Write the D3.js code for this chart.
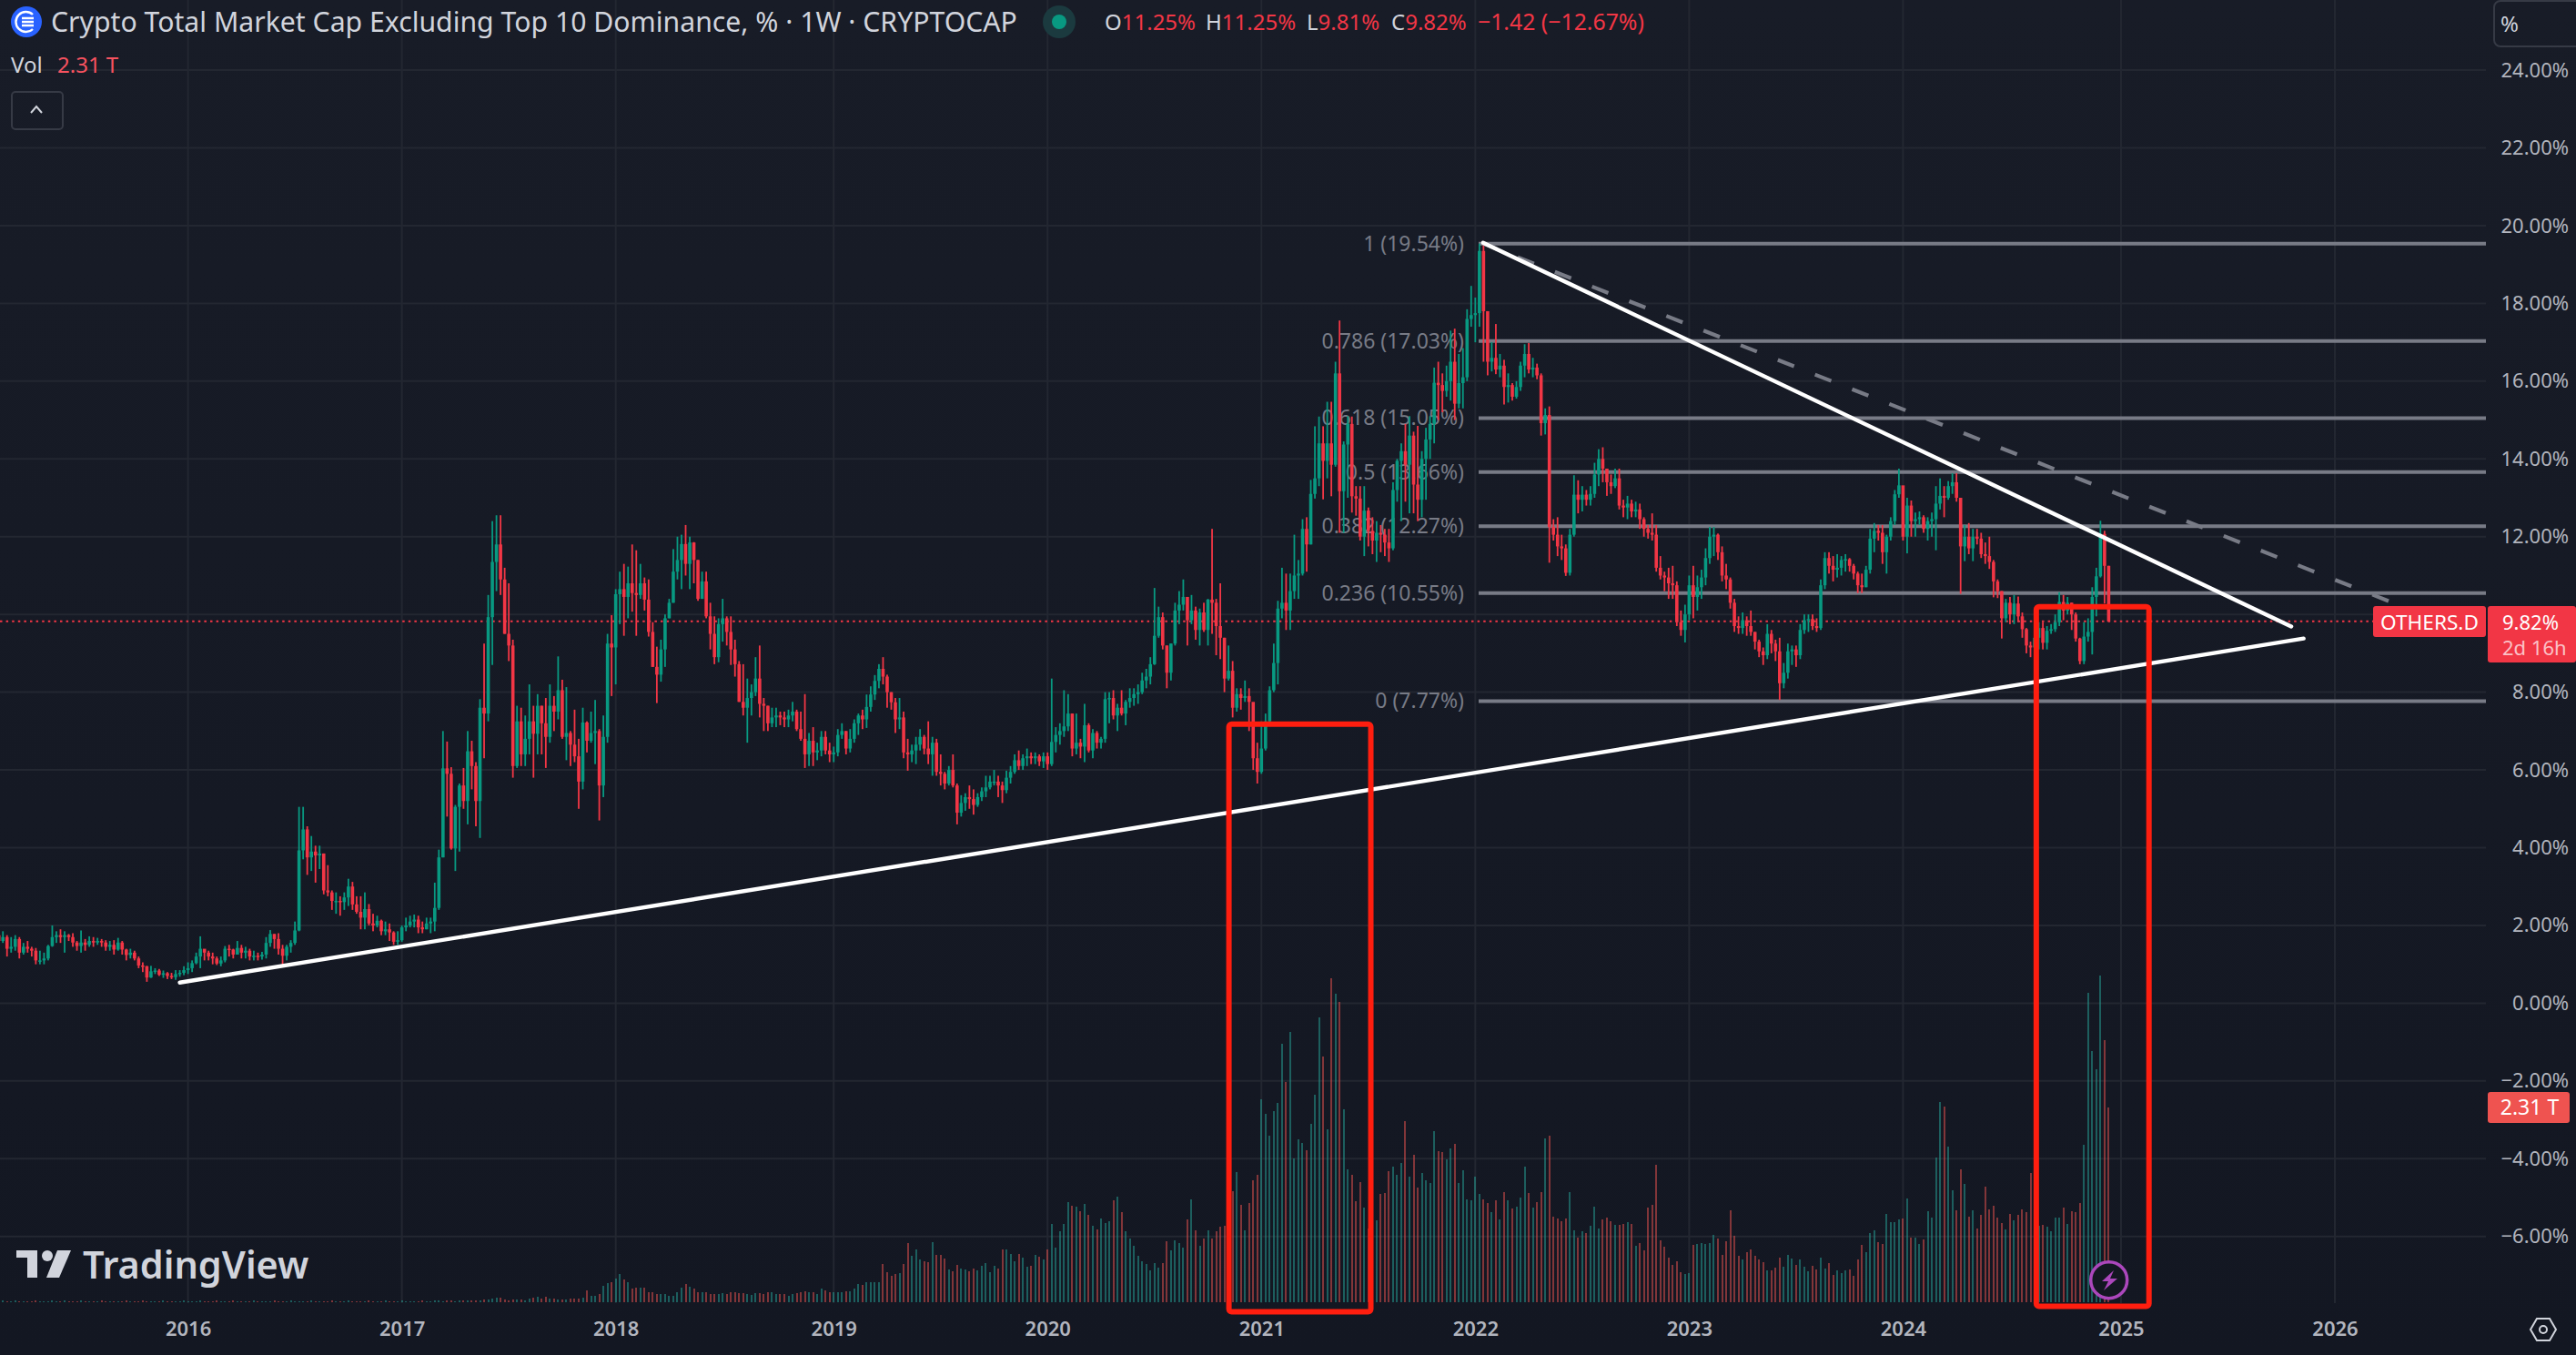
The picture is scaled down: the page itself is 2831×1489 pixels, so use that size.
<!DOCTYPE html>
<html>
<head>
<meta charset="utf-8">
<title>OTHERS.D</title>
<script src="https://cdn.jsdelivr.net/npm/d3@7"></script>
<style>
  html, body { margin: 0; padding: 0; background: #131722; overflow: hidden; }
  text { font-family: "Noto Sans", "Open Sans", sans-serif; }
</style>
</head>
<body>
<div class="chart"></div>
<script>
// weekly bars, open of a bar is the close of the bar before it
let firstOpen = 1.75;

let closes = [
  1.6,1.7,1.4,1.45,1.65,1.3,1.45,1.4,1.35,1.1,
  1.1,1.15,1.47,1.7,1.75,1.7,1.75,1.7,1.56,1.47,
  1.56,1.5,1.6,1.56,1.6,1.56,1.45,1.5,1.38,1.56,
  1.38,1.24,1.3,1.15,.97,.95,.66,.82,.84,.73,
  .77,.7,.67,.75,.78,.85,.9,1.03,1.2,1.4,
  1.3,1.2,1.15,1.02,1.1,1.4,1.38,1.25,1.42,1.3,
  1.35,1.2,1.22,1.2,1.25,1.55,1.78,1.65,1.4,1.22,
  1.45,1.55,1.87,3.93,4.47,3.75,3.9,3.8,3.85,2.9,
  2.85,2.63,2.63,2.6,2.72,3.0,2.54,2.35,2.2,2.42,
  2.05,2.0,2.12,1.85,1.9,1.82,1.58,1.62,1.95,2.0,
  2.1,2.15,1.95,1.9,2.05,2.1,2.45,3.75,6.04,5.9,
  3.98,5.05,5.6,5.2,6.48,6.1,5.2,7.6,7.45,9.93,
  11.35,11.8,10.9,9.5,9.2,6.1,7.25,6.4,6.8,7.25,
  6.93,7.65,7.2,6.85,7.65,7.5,8.05,6.85,6.95,6.65,
  6.35,5.7,7.22,6.75,6.95,7.0,5.6,6.85,9.25,9.15,
  10.52,10.65,10.45,10.8,10.55,10.5,10.8,10.38,9.55,8.65,
  8.45,9.1,9.9,10.3,11.1,11.4,11.81,11.3,11.85,11.4,
  10.4,10.85,9.95,9.5,8.9,9.75,9.9,9.55,9.1,8.72,
  7.75,7.6,7.85,8.0,8.35,7.7,7.65,7.2,7.35,7.4,
  7.35,7.3,7.4,7.5,7.05,6.8,6.4,6.75,6.45,6.5,
  6.85,6.5,6.4,6.45,6.9,7.0,6.55,6.8,7.2,7.4,
  7.3,7.62,7.94,8.29,8.6,8.4,8.0,7.74,7.3,7.35,
  6.45,6.4,6.5,6.65,6.85,6.55,6.4,6.7,5.95,5.9,
  5.65,6.0,5.6,4.9,5.15,5.3,5.25,5.1,5.3,5.45,
  5.55,5.7,5.7,5.6,5.48,5.8,5.95,6.25,6.1,6.3,
  6.35,6.3,6.35,6.22,6.35,6.15,6.72,6.9,7.0,7.12,
  7.45,6.55,6.7,6.6,7.15,6.5,6.95,6.7,6.8,7.82,
  7.85,7.4,7.6,7.45,7.75,7.85,7.95,8.0,8.3,8.4,
  8.72,9.45,9.93,9.2,8.5,9.25,10.1,10.25,10.45,9.85,
  10.1,9.6,10.05,9.6,10.38,10.3,9.7,9.4,8.35,8.55,
  7.6,7.95,7.85,7.9,7.75,6.3,5.95,6.55,7.25,8.05,
  8.75,10.15,10.3,10.1,10.6,11.0,11.05,12.2,11.8,13.1,
  13.5,14.4,13.95,14.4,13.85,16.2,13.17,14.37,14.9,13.04,
  12.98,12.0,12.67,12.15,11.9,12.1,12.05,11.85,11.7,13.2,
  13.95,14.2,13.85,14.6,13.34,12.95,14.0,14.5,14.9,15.96,
  15.9,15.75,16.0,16.5,15.42,15.95,16.1,17.6,17.7,17.75,
  19.35,17.8,16.5,16.6,16.3,16.4,15.85,15.9,15.6,15.85,
  16.4,16.7,16.3,16.35,16.15,14.92,15.13,12.25,12.05,11.75,
  11.7,11.07,12.05,13.08,12.95,13.08,12.95,13.1,13.6,14.0,
  13.75,13.4,13.3,13.5,12.8,12.75,12.85,12.65,12.7,12.45,
  12.2,12.1,12.05,11.2,11.0,10.95,10.8,10.75,9.8,9.6,
  10.0,10.75,10.45,10.7,10.95,11.45,12.0,12.05,11.6,11.0,
  10.9,10.3,9.7,9.65,9.85,9.7,9.55,9.3,9.05,8.95,
  9.5,9.25,9.05,8.23,8.5,9.05,9.1,8.95,9.6,9.85,
  9.88,9.7,9.65,10.75,11.45,11.25,11.15,11.2,11.4,11.42,
  11.25,11.05,10.75,10.7,11.15,11.95,12.15,12.1,11.6,12.0,
  12.4,13.09,13.32,12.0,12.8,12.4,12.45,12.5,12.2,12.4,
  12.45,12.85,13.05,13.0,13.3,13.4,13.0,11.75,12.0,11.7,
  12.0,11.95,11.55,11.5,11.35,10.85,10.6,9.9,10.3,10.0,
  10.28,9.95,9.62,9.2,9.15,9.4,9.65,9.27,9.58,9.62,
  9.8,10.32,10.1,10.3,10.0,9.38,8.8,9.43,9.55,10.45,
  10.98,12.07,11.25,9.82
];

let highs = [
  1.9,1.85,1.75,1.7,1.75,1.7,1.55,1.6,1.45,1.42,
  1.35,1.3,1.5,2.0,1.85,1.9,1.85,1.78,1.8,1.6,
  1.87,1.65,1.72,1.7,1.68,1.65,1.62,1.6,1.62,1.68,
  1.6,1.4,1.4,1.35,1.2,1.05,.96,.96,.9,.88,
  .84,.8,.78,.85,.85,.95,1.05,1.1,1.3,1.72,
  1.35,1.35,1.3,1.2,1.2,1.47,1.5,1.4,1.6,1.5,
  1.45,1.4,1.35,1.3,1.32,1.7,1.88,1.78,1.8,1.5,
  1.5,1.62,2.1,5.05,5.05,4.55,4.3,4.05,4.05,3.85,
  3.55,2.9,2.85,2.75,2.85,3.2,3.12,2.75,2.75,2.85,
  2.55,2.3,2.25,2.15,2.1,2.05,1.85,1.85,2.0,2.2,
  2.25,2.28,2.25,2.1,2.2,2.2,3.1,3.95,7.0,6.73,
  6.07,5.1,5.65,6.05,7.0,6.75,6.2,7.82,9.25,10.5,
  12.4,12.55,12.55,11.2,10.8,9.35,7.65,7.6,7.4,8.2,
  7.65,7.95,7.65,7.85,8.2,7.9,8.92,8.32,8.13,7.0,
  7.55,6.8,7.6,7.25,7.5,7.8,7.05,7.4,9.5,9.98,
  10.65,11.1,11.3,11.23,11.8,11.65,11.3,10.95,10.9,9.8,
  9.17,9.35,10.0,10.4,11.68,12.0,12.05,12.3,12.0,11.86,
  11.4,11.1,11.1,10.3,9.95,9.9,10.4,9.95,9.95,9.35,
  8.8,8.72,8.35,8.2,8.9,9.2,7.85,7.65,7.6,7.6,
  7.5,7.5,7.55,7.75,7.55,7.5,7.95,6.95,7.1,6.7,
  7.0,7.0,6.7,6.6,7.05,7.2,7.0,7.05,7.3,7.45,
  7.55,7.94,8.15,8.44,8.72,8.9,8.45,8.0,7.85,7.85,
  7.5,6.8,6.65,6.85,7.05,6.9,7.25,6.85,6.8,6.4,
  5.95,6.1,6.4,5.65,5.35,5.4,5.6,5.5,5.4,5.55,
  5.85,5.85,6.0,5.85,5.7,5.98,6.1,6.4,6.5,6.4,
  6.55,6.45,6.45,6.4,6.45,6.45,8.35,7.1,7.2,8.05,
  7.95,7.45,7.45,6.8,7.7,7.2,7.05,7.0,6.85,8.0,
  8.0,8.05,7.7,8.05,7.8,8.1,8.1,8.2,8.5,8.6,
  8.9,10.68,10.2,10.05,9.2,9.25,10.3,10.6,10.9,10.45,
  10.5,10.2,10.15,10.3,10.4,12.2,10.4,10.8,9.4,9.2,
  8.8,8.1,8.1,8.3,8.1,7.4,6.7,7.25,7.45,8.15,
  9.25,10.35,11.2,11.05,11.05,12.05,11.4,12.45,12.5,13.46,
  14.84,15.09,14.84,15.47,15.47,16.5,17.56,14.45,15.1,15.09,
  13.3,13.3,13.3,12.75,12.5,12.4,12.3,12.2,12.2,13.4,
  14.0,14.4,14.9,15.1,14.7,14.85,14.2,14.8,15.1,16.35,
  16.5,16.2,16.4,17.3,17.35,16.7,16.85,17.85,18.45,18.15,
  19.54,19.54,17.8,17.0,17.47,16.7,16.55,16.2,15.95,16.0,
  16.5,16.95,16.98,16.6,16.45,16.2,15.3,15.35,12.45,12.5,
  12.05,11.8,12.2,13.58,13.45,13.3,13.2,13.3,13.9,14.25,
  14.3,13.75,13.6,13.75,13.75,12.95,13.05,12.95,12.9,12.85,
  12.5,12.3,12.6,12.3,11.5,11.1,11.2,11.25,10.85,10.1,
  10.25,11.0,11.25,11.0,11.15,11.7,12.25,12.25,12.08,11.75,
  11.3,10.95,10.4,9.95,10.05,9.95,10.1,9.55,9.35,9.15,
  9.75,9.6,9.35,9.4,8.75,9.25,9.2,9.2,9.75,10.0,
  10.0,10.0,9.9,10.9,11.6,11.6,11.5,11.55,11.5,11.55,
  11.45,11.3,11.1,11.05,11.25,12.2,12.35,12.3,12.3,12.05,
  12.5,13.2,13.75,13.3,13.0,12.93,12.62,12.65,12.55,12.5,
  12.62,13.3,13.5,13.3,13.43,13.63,13.63,13.0,12.3,12.35,
  12.2,12.2,12.1,11.85,12.0,11.4,10.9,10.6,10.4,10.45,
  10.5,10.46,10.05,9.65,9.3,10.1,9.8,9.8,9.7,9.75,
  10.0,10.57,10.5,10.45,10.3,10.05,9.4,9.8,9.9,10.7,
  11.2,12.41,12.15,11.25
];

let lows = [
  1.45,1.55,1.2,1.3,1.35,1.15,1.25,1.3,1.2,1.0,
  1.0,1.0,1.1,1.45,1.55,1.55,1.3,1.6,1.45,1.35,
  1.3,1.35,1.45,1.45,1.5,1.45,1.35,1.35,1.25,1.35,
  1.25,1.1,1.15,1.1,.9,.8,.55,.65,.75,.7,
  .65,.62,.62,.6,.68,.72,.75,.8,1.0,.9,
  1.1,1.1,1.0,.98,.95,1.05,1.2,1.15,1.25,1.15,
  1.15,1.1,1.1,1.1,1.12,1.15,1.45,1.4,1.25,.95,
  1.1,1.3,1.5,1.85,3.7,3.3,3.4,3.1,3.45,2.8,
  2.75,2.4,2.3,2.25,2.4,2.5,2.4,2.3,1.9,1.9,
  2.0,1.85,1.95,1.75,1.75,1.6,1.5,1.5,1.58,1.85,
  1.95,1.95,1.8,1.8,1.9,1.8,1.85,2.4,3.75,4.8,
  3.95,3.4,3.9,5.0,4.6,5.5,4.55,4.25,6.3,7.25,
  8.7,10.6,10.5,9.5,8.8,5.8,6.05,6.1,6.1,6.4,
  5.8,6.4,6.4,6.05,6.7,7.0,7.3,6.8,6.25,6.1,
  6.2,5.0,5.5,6.45,6.7,6.15,4.7,5.3,6.7,7.9,
  8.2,9.75,9.45,9.9,10.07,9.45,10.4,10.1,9.43,8.65,
  7.72,8.27,8.65,9.9,10.3,10.9,10.65,11.0,10.65,10.8,
  10.35,10.4,9.9,9.1,8.72,8.77,9.3,9.2,8.7,8.4,
  7.75,7.4,6.7,7.4,7.9,7.35,7.0,7.0,7.1,7.1,
  7.15,7.1,7.1,7.25,7.0,6.75,6.05,6.1,6.1,6.25,
  6.35,6.4,6.2,6.2,6.35,6.8,6.4,6.45,6.7,6.9,
  7.05,7.08,7.5,7.8,8.1,8.2,7.6,7.55,6.95,7.05,
  6.3,5.98,6.2,6.15,6.5,6.4,6.15,5.85,5.85,5.6,
  5.5,5.6,5.55,4.6,4.8,4.95,5.0,4.85,5.05,5.2,
  5.3,5.5,5.6,5.3,5.15,5.4,5.65,5.9,6.0,6.0,
  6.1,6.15,6.15,6.1,6.05,6.0,6.1,6.45,6.65,6.85,
  7.0,6.35,6.4,6.3,6.2,6.45,6.3,6.55,6.55,6.7,
  7.2,7.3,7.0,7.4,7.15,7.6,7.65,7.7,7.95,8.1,
  8.2,8.7,9.4,9.1,8.1,8.3,9.2,9.75,10.1,9.2,
  9.75,9.35,9.2,9.55,9.2,9.5,8.95,8.85,8.0,8.3,
  7.35,7.5,7.55,7.75,7.0,6.0,5.65,5.9,6.5,7.2,
  8.0,8.2,9.9,9.6,9.6,10.4,10.4,11.0,11.1,11.8,
  12.98,13.3,12.96,13.5,13.04,13.8,12.1,12.1,13.0,12.62,
  12.54,11.9,11.5,11.75,11.55,11.35,11.6,11.5,11.35,11.65,
  12.9,12.4,12.9,12.6,12.6,12.4,12.5,12.95,14.0,14.4,
  15.0,15.2,15.6,15.5,15.0,15.3,15.3,16.0,17.4,17.0,
  17.4,16.5,16.15,16.25,16.18,16.1,15.4,15.45,15.5,15.55,
  15.75,16.1,16.2,16.1,16.05,14.6,14.63,11.33,11.9,11.5,
  11.4,10.99,11.0,12.0,12.6,12.65,12.8,12.8,13.0,13.3,
  13.4,13.05,13.1,13.25,12.7,12.5,12.45,12.5,12.5,12.2,
  12.0,11.95,11.9,11.1,10.9,10.6,10.4,10.4,9.7,9.45,
  9.28,9.85,9.9,10.1,10.4,10.75,11.3,11.5,11.4,10.85,
  10.65,10.15,9.55,9.5,9.5,9.45,9.45,9.1,8.9,8.7,
  8.85,9.0,8.8,7.8,8.1,8.35,8.7,8.65,8.85,9.5,
  9.55,9.6,9.55,9.6,10.65,11.05,10.85,10.95,11.0,11.1,
  11.1,10.9,10.55,10.55,10.7,11.05,11.6,11.9,11.3,11.05,
  11.9,12.3,13.0,11.9,11.57,12.0,12.0,12.3,12.1,11.9,
  12.0,11.65,12.7,12.5,12.95,13.1,12.9,10.53,11.37,11.55,
  11.37,11.8,11.45,11.3,11.17,10.44,10.42,9.38,9.8,9.75,
  9.75,9.8,9.4,9.0,8.9,9.05,9.1,9.1,9.1,9.5,
  9.55,9.7,9.85,10.0,9.6,9.3,8.72,8.72,9.3,8.97,
  9.95,10.95,10.28,9.81
];

// volume, trillions
let volumes = [
  .016,.018,.016,.014,.018,.016,.016,.014,.016,.018,
  .016,.014,.016,.018,.016,.014,.018,.016,.014,.016,
  .018,.016,.014,.016,.016,.018,.014,.016,.016,.014,
  .016,.018,.016,.014,.016,.018,.016,.014,.014,.016,
  .018,.016,.014,.016,.016,.018,.016,.014,.016,.018,
  .016,.014,.016,.018,.014,.016,.016,.018,.014,.016,
  .016,.014,.018,.016,.016,.014,.016,.018,.016,.014,
  .016,.018,.016,.014,.016,.016,.018,.014,.016,.016,
  .014,.018,.016,.014,.016,.018,.016,.014,.016,.016,
  .018,.016,.014,.016,.018,.016,.014,.016,.018,.016,
  .016,.014,.016,.018,.016,.016,.018,.02,.016,.018,
  .018,.016,.02,.018,.022,.018,.02,.024,.028,.036,
  .043,.05,.05,.029,.025,.029,.029,.029,.025,.043,
  .058,.061,.043,.061,.04,.04,.029,.029,.029,.04,
  .04,.04,.05,.137,.072,.079,.094,.194,.23,.241,
  .277,.331,.266,.234,.158,.169,.169,.169,.122,.115,
  .097,.097,.097,.072,.072,.115,.169,.212,.18,.158,
  .115,.115,.115,.101,.094,.101,.108,.094,.115,.115,
  .108,.108,.101,.083,.104,.104,.094,.115,.115,.094,
  .094,.094,.072,.094,.104,.122,.133,.122,.115,.097,
  .158,.137,.119,.122,.122,.122,.133,.133,.158,.22,
  .202,.234,.234,.234,.241,.45,.36,.31,.338,.342,
  .45,.698,.547,.623,.504,.482,.472,.709,.565,.565,
  .515,.385,.364,.439,.396,.385,.364,.396,.374,.428,
  .461,.353,.428,.396,.623,.623,.569,.482,.569,.526,
  .418,.428,.558,.536,.504,.623,.925,.644,.839,.925,
  1.184,1.141,1.13,1.076,1.163,1.033,.904,.86,.99,.936,
  .958,1.206,1.249,1.066,.839,.752,.666,.547,.482,.45,
  .374,.461,.407,.461,.72,.612,.731,.698,
  .648,.979,1.217,.85,.666,.752,.85,.752,.842,.893,
  .907,.979,1.314,1.541,1.152,.85,1.174,1.444,1.508,2.405,
  2.232,1.973,2.264,2.362,3.064,2.61,3.204,1.703,1.93,1.886,
  1.8,2.113,2.459,3.377,2.912,2.048,3.841,3.658,3.56,2.286,
  1.573,1.508,1.195,1.422,1.12,.871,.85,.968,1.282,1.292,
  1.552,1.606,1.508,1.649,2.146,1.487,1.746,1.357,1.53,1.444,
  1.411,2.027,1.789,1.778,1.692,1.822,1.876,1.411,1.562,1.217,
  1.206,1.487,1.282,1.217,1.174,1.066,1.206,.979,1.303,1.206,
  1.109,1.13,1.238,1.606,1.292,1.12,1.184,1.303,1.94,1.973,
  1.012,.99,.958,.99,1.303,.85,.763,.839,.817,.904,
  1.13,.871,.979,1.001,.958,.914,.914,.925,.947,.925,
  .666,.698,.612,1.12,1.152,1.627,.731,.655,.526,.439,
  .482,.353,.331,.342,.677,.688,.698,.688,.698,.796,
  .752,.558,.72,1.087,.785,.547,.504,.59,.623,.547,
  .504,.472,.374,.374,.407,.526,.418,.558,.515,.439,
  .504,.418,.364,.428,.385,.526,.396,.461,.32,.374,
  .342,.374,.385,.31,.504,.677,.59,.817,.85,.709,
  .688,1.044,.947,.947,.979,.99,1.228,.763,.763,.688,
  .742,1.076,1.001,1.714,2.372,2.318,1.843,1.325,1.087,1.573,
  1.4,1.012,1.087,.871,1.033,1.368,1.098,1.141,1.001,.936,
  .86,1.044,.968,1.033,1.098,1.066,1.53,1.141,.904,.914,
  .893,.839,1.001,1.001,1.12,.925,1.076,1.066,1.174,1.865,
  3.668,2.977,2.761,3.874,3.107,2.311
];

// bar index of the first week of every year
let yearBars = [46, 98, 150, 203, 255, 307, 359, 411, 463, 516, 568];
let yearLabels = ['2016', '2017', '2018', '2019', '2020', '2021', '2022', '2023', '2024', '2025', '2026'];
let priceTicks = [-6, -4, -2, 0, 2, 4, 6, 8, 10, 12, 14, 16, 18, 20, 22, 24];

let fibRatios = ['1', '0.786', '0.618', '0.5', '0.382', '0.236', '0'];
let fibPrices = [19.54, 17.03, 15.05, 13.66, 12.27, 10.55, 7.77];

// drawings as [bar, price, bar, price]
let supportLine = [44, .53, 560.4, 9.38];
let resistanceLine = [360.9, 19.56, 557.4, 9.69];
let dashedLine = [360.9, 19.54, 587.4, 10.08];
let boxes = [
  {bar0: 299.1, bar1: 333.6, top: 7.18, bottom: -7.94},
  {bar0: 495.4, bar1: 522.8, top: 10.2, bottom: -7.8}
];

let lastClose = 9.82;

let width = 2831, height = 1489;
let plotRight = 2732, plotBottom = 1432;
let fibLeft = 1625;

let green = '#089981', red = '#f23645', fibGrey = '#787b86', axisText = '#b2b5be', gridColor = '#232731';

let xScale = d3.scaleLinear().domain([46, 568]).range([206.6, 2566]);
let yScale = d3.scaleLinear().domain([-6, 24]).range([1358.7, 77.1]);
let volScale = d3.scaleLinear().domain([0, 1]).range([1431, 1338.3]);

let bars = closes.map((c, i) => ({
  i: i,
  open: i === 0 ? firstOpen : closes[i - 1],
  close: c,
  high: highs[i],
  low: lows[i],
  vol: volumes[i]
}));

let svg = d3.select('.chart')
  .append('svg')
  .attr('width', width)
  .attr('height', height)
  .style('display', 'block');

let grad = svg.append('defs').append('linearGradient')
  .attr('id', 'bg')
  .attr('x1', 0).attr('x2', 0).attr('y1', 0).attr('y2', 1);
grad.append('stop').attr('offset', '0%').attr('stop-color', '#181c27');
grad.append('stop').attr('offset', '100%').attr('stop-color', '#131722');

svg.append('rect')
  .attr('width', width)
  .attr('height', height)
  .attr('fill', 'url(#bg)');

// grid
svg.append('g').selectAll('line')
  .data(priceTicks)
  .enter()
  .append('line')
  .attr('x1', 0)
  .attr('x2', plotRight)
  .attr('y1', d => yScale(d))
  .attr('y2', d => yScale(d))
  .attr('stroke', gridColor)
  .attr('stroke-width', 2);

svg.append('g').selectAll('line')
  .data(yearBars)
  .enter()
  .append('line')
  .attr('x1', d => xScale(d))
  .attr('x2', d => xScale(d))
  .attr('y1', 0)
  .attr('y2', plotBottom)
  .attr('stroke', gridColor)
  .attr('stroke-width', 2);

// volume
svg.append('g').selectAll('rect')
  .data(bars)
  .enter()
  .append('rect')
  .attr('x', d => xScale(d.i) - 1)
  .attr('width', 2)
  .attr('y', d => volScale(d.vol))
  .attr('height', d => volScale(0) - volScale(d.vol))
  .attr('fill', d => d.close >= d.open ? '#26a69a' : '#ef5350')
  .attr('fill-opacity', .5)
  .attr('shape-rendering', 'crispEdges');

// fib levels
let fibs = fibPrices.map((p, i) => ({price: p, ratio: fibRatios[i]}));

svg.append('g').selectAll('text')
  .data(fibs)
  .enter()
  .append('text')
  .attr('x', fibLeft - 16)
  .attr('y', d => yScale(d.price))
  .attr('dy', '.35em')
  .attr('text-anchor', 'end')
  .attr('fill', fibGrey)
  .attr('font-size', 23)
  .text(d => `${d.ratio} (${d.price.toFixed(2)}%)`);

svg.append('g').selectAll('line')
  .data(fibs)
  .enter()
  .append('line')
  .attr('x1', fibLeft)
  .attr('x2', plotRight)
  .attr('y1', d => yScale(d.price))
  .attr('y2', d => yScale(d.price))
  .attr('stroke', fibGrey)
  .attr('stroke-width', 4);

// last price line
svg.append('line')
  .attr('x1', 0)
  .attr('x2', 2608)
  .attr('y1', yScale(lastClose))
  .attr('y2', yScale(lastClose))
  .attr('stroke', red)
  .attr('stroke-width', 2)
  .attr('stroke-dasharray', '2.5 4.1');

// candles
let candles = svg.append('g').selectAll('g')
  .data(bars)
  .enter()
  .append('g')
  .attr('fill', d => d.close >= d.open ? green : red);

candles.append('rect')
  .attr('x', d => xScale(d.i) - .9)
  .attr('width', 1.8)
  .attr('y', d => yScale(d.high))
  .attr('height', d => Math.max(yScale(d.low) - yScale(d.high), 1));

candles.append('rect')
  .attr('x', d => xScale(d.i) - 1.8)
  .attr('width', 3.6)
  .attr('y', d => yScale(Math.max(d.open, d.close)))
  .attr('height', d => Math.max(Math.abs(yScale(d.open) - yScale(d.close)), 1.5));

// drawings
function drawLine(l) {
  return svg.append('line')
    .attr('x1', xScale(l[0]))
    .attr('y1', yScale(l[1]))
    .attr('x2', xScale(l[2]))
    .attr('y2', yScale(l[3]))
    .attr('stroke-linecap', 'round');
}

drawLine(dashedLine)
  .attr('stroke', fibGrey)
  .attr('stroke-width', 4.2)
  .attr('stroke-linecap', 'butt')
  .attr('stroke-dasharray', '19.2 24.7')
  .attr('stroke-dashoffset', 3);
drawLine(supportLine).attr('stroke', '#fff').attr('stroke-width', 4.4);
drawLine(resistanceLine).attr('stroke', '#fff').attr('stroke-width', 4.4);

svg.append('g').selectAll('rect')
  .data(boxes)
  .enter()
  .append('rect')
  .attr('x', d => xScale(d.bar0))
  .attr('y', d => yScale(d.top))
  .attr('width', d => xScale(d.bar1) - xScale(d.bar0))
  .attr('height', d => yScale(d.bottom) - yScale(d.top))
  .attr('rx', 3)
  .attr('fill', 'none')
  .attr('stroke', '#ff1e0f')
  .attr('stroke-width', 6);

// axes
let yAxis = d3.axisRight(yScale)
  .tickValues(priceTicks)
  .tickSize(0)
  .tickFormat(d => (d < 0 ? '\u2212' : '') + Math.abs(d).toFixed(2) + '%');

let yAxisG = svg.append('g')
  .attr('transform', `translate(2823, 0)`)
  .call(yAxis);
yAxisG.select('.domain').remove();
yAxisG.selectAll('text')
  .attr('x', 0)
  .attr('text-anchor', 'end')
  .attr('fill', axisText)
  .attr('font-size', 22)
  .style('font-family', '"Noto Sans"');

let xAxis = d3.axisBottom(xScale)
  .tickValues(yearBars)
  .tickSize(0)
  .tickFormat((d, i) => yearLabels[i]);

let xAxisG = svg.append('g')
  .attr('transform', `translate(0, 1452.5)`)
  .call(xAxis);
xAxisG.select('.domain').remove();
xAxisG.selectAll('text')
  .attr('y', 0)
  .attr('fill', axisText)
  .attr('font-size', 22)
  .attr('font-weight', 600)
  .style('font-family', '"Noto Sans"');

// price tags
svg.append('rect')
  .attr('x', 2608).attr('y', 666).attr('width', 124).attr('height', 34).attr('rx', 3)
  .attr('fill', '#f23645');
svg.append('text')
  .attr('x', 2670).attr('y', 692)
  .attr('text-anchor', 'middle')
  .attr('fill', '#fff')
  .attr('font-size', 22.6)
  .text('OTHERS.D');

svg.append('rect')
  .attr('x', 2734).attr('y', 666).attr('width', 97).attr('height', 62).attr('rx', 3)
  .attr('fill', '#f23645');
svg.append('text')
  .attr('x', 2750).attr('y', 692)
  .attr('fill', '#fff')
  .attr('font-size', 22)
  .text('9.82%');
svg.append('text')
  .attr('x', 2750).attr('y', 720)
  .attr('fill', '#fbc1c7')
  .attr('font-size', 22)
  .text('2d 16h');

svg.append('rect')
  .attr('x', 2734).attr('y', 1200).attr('width', 90).attr('height', 34).attr('rx', 3)
  .attr('fill', '#ef5350');
svg.append('text')
  .attr('x', 2780).attr('y', 1225)
  .attr('text-anchor', 'middle')
  .attr('fill', '#fff')
  .attr('font-size', 23)
  .text('2.31 T');

// header
svg.append('circle').attr('cx', 29).attr('cy', 24).attr('r', 17).attr('fill', '#2962ff');
svg.append('path')
  .attr('d', 'M36 16 A11 11 0 1 0 36 32 M24 20 H37 M24 24 H37 M24 28 H37')
  .attr('fill', 'none')
  .attr('stroke', '#fff')
  .attr('stroke-width', 2.4);

svg.append('text')
  .attr('x', 56).attr('y', 35)
  .attr('fill', '#d1d4dc')
  .attr('font-size', 30.2)
  .text('Crypto Total Market Cap Excluding Top 10 Dominance, % \u00b7 1W \u00b7 CRYPTOCAP');

svg.append('circle').attr('cx', 1164).attr('cy', 24).attr('r', 18).attr('fill', '#1b3a3f');
svg.append('circle').attr('cx', 1164).attr('cy', 24).attr('r', 8).attr('fill', green);

let ohlc = [
  {x: 1214, label: 'O', value: '11.25%'},
  {x: 1325, label: 'H', value: '11.25%'},
  {x: 1436, label: 'L', value: '9.81%'},
  {x: 1529, label: 'C', value: '9.82%'}
];
let ohlcText = svg.append('g').selectAll('text')
  .data(ohlc)
  .enter()
  .append('text')
  .attr('x', d => d.x)
  .attr('y', 33)
  .attr('font-size', 24);
ohlcText.append('tspan').attr('fill', '#d1d4dc').text(d => d.label);
ohlcText.append('tspan').attr('fill', red).text(d => d.value);

svg.append('text')
  .attr('x', 1624).attr('y', 33)
  .attr('fill', red)
  .attr('font-size', 24.8)
  .text('\u22121.42 (\u221212.67%)');

svg.append('text')
  .attr('x', 12).attr('y', 80)
  .attr('fill', '#d1d4dc')
  .attr('font-size', 24)
  .text('Vol');
svg.append('text')
  .attr('x', 63).attr('y', 80)
  .attr('fill', '#f7525f')
  .attr('font-size', 24)
  .text('2.31 T');

svg.append('rect')
  .attr('x', 13).attr('y', 101).attr('width', 56).attr('height', 41).attr('rx', 4)
  .attr('fill', 'none')
  .attr('stroke', '#363a45')
  .attr('stroke-width', 2);
svg.append('path')
  .attr('d', 'M34 124 L40 117 L46 124')
  .attr('fill', 'none')
  .attr('stroke', '#d1d4dc')
  .attr('stroke-width', 2);

// percent button
svg.append('rect')
  .attr('x', 2741).attr('y', 1).attr('width', 110).attr('height', 50).attr('rx', 7)
  .attr('fill', 'none')
  .attr('stroke', '#363a45')
  .attr('stroke-width', 2);
svg.append('text')
  .attr('x', 2748).attr('y', 35)
  .attr('fill', '#d1d4dc')
  .attr('font-size', 24)
  .text('%');

// logo
let logo = svg.append('g').attr('fill', '#d1d4dc');
logo.append('path').attr('d', 'M18 1374 H41 V1404 H30 V1382 H18 Z');
logo.append('circle').attr('cx', 52).attr('cy', 1380).attr('r', 6);
logo.append('path').attr('d', 'M63 1374 H78 L65 1404 H51 Z');
logo.append('text')
  .attr('x', 91).attr('y', 1405)
  .attr('font-size', 41.4)
  .attr('font-weight', 600)
  .text('TradingView');

// lightning marker
svg.append('circle')
  .attr('cx', 2317.7).attr('cy', 1406.7).attr('r', 20)
  .attr('fill', '#131722')
  .attr('stroke', '#ab47bc')
  .attr('stroke-width', 3.5);
svg.append('path')
  .attr('d', 'M2323 1396 L2310 1408 H2317 L2312 1418 L2327 1405 H2319 Z')
  .attr('fill', '#ab47bc');

// settings hexagon
svg.append('path')
  .attr('d', 'M2781 1461 L2788 1449 H2802 L2809 1461 L2802 1473 H2788 Z')
  .attr('fill', 'none')
  .attr('stroke', '#d1d4dc')
  .attr('stroke-width', 2);
svg.append('circle')
  .attr('cx', 2795).attr('cy', 1461).attr('r', 4)
  .attr('fill', 'none')
  .attr('stroke', '#d1d4dc')
  .attr('stroke-width', 2);
</script>
</body>
</html>
